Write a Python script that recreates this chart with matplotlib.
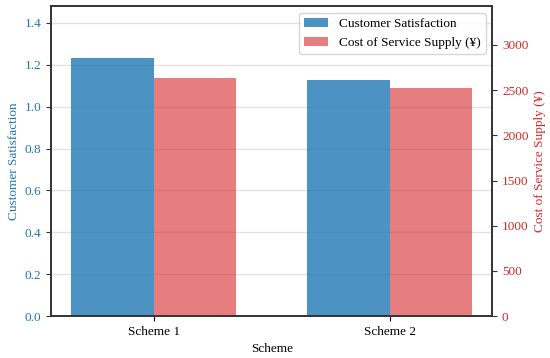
import matplotlib
matplotlib.use('Agg')
from matplotlib import pyplot as plt
import numpy as np

schemes = ['Scheme 1', 'Scheme 2']
satisfaction = [1.231, 1.129]
cost = [2631, 2524]

plt.rcParams['font.family'] = ['Liberation Serif', 'DejaVu Serif']
plt.rcParams['font.size'] = 9.5

fig, ax1 = plt.subplots(figsize=(5.5, 3.58), dpi=100)
ax2 = ax1.twinx()

x = np.arange(len(schemes))
width = 0.35

b1 = ax1.bar(x - width / 2, satisfaction, width, color='tab:blue', alpha=0.8,
             label='Customer Satisfaction')
b2 = ax2.bar(x + width / 2, cost, width, color='tab:red', alpha=0.6,
             label='Cost of Service Supply (¥)')

ax1.set_ylim(0, 1.48)
ax2.set_ylim(0, 3430)
ax1.set_yticks(np.arange(0, 1.41, 0.2))
ax2.set_yticks(np.arange(0, 3001, 500))

ax1.set_xticks(x)
ax1.set_xticklabels(schemes)
ax1.set_xlabel('Scheme')
ax1.set_ylabel('Customer Satisfaction', color='tab:blue', labelpad=3.5)
ax2.set_ylabel('Cost of Service Supply (¥)', color='tab:red', labelpad=4)
ax1.tick_params(axis='y', colors='tab:blue')
ax2.tick_params(axis='y', colors='tab:red')
for ax in (ax1, ax2):
    ax.tick_params(axis='y', which='both', color='#333333')
    for s in ax.spines.values():
        s.set_color('#333333')
        s.set_linewidth(1.2)

ax1.grid(axis='y', color='#dddddd', alpha=0.8, linewidth=1)
ax1.set_axisbelow(True)

ax1.legend([b1, b2], [b1.get_label(), b2.get_label()], loc='upper right',
           handlelength=1.8)

fig.subplots_adjust(left=0.093, right=0.895, top=0.983, bottom=0.117)
plt.savefig('out.png', dpi=100)
